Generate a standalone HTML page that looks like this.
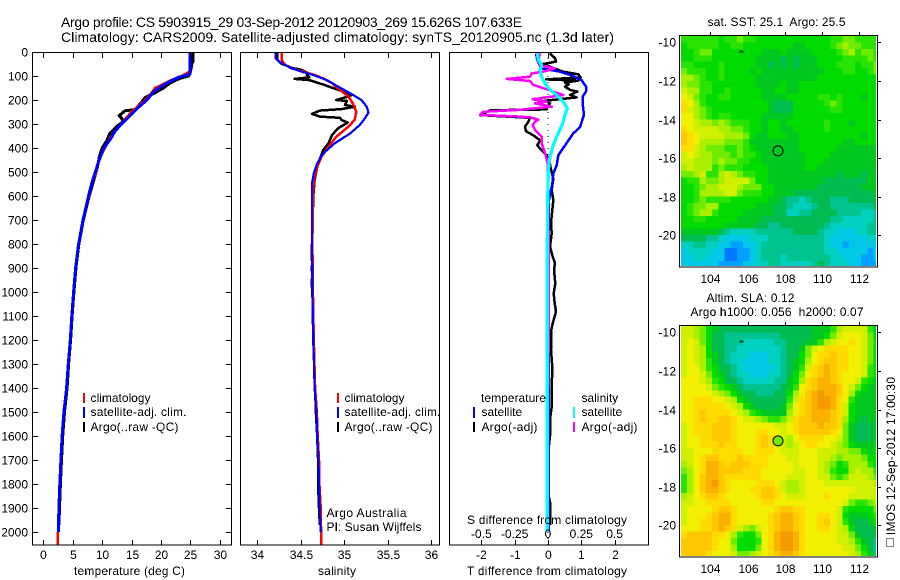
<!DOCTYPE html>
<html>
<head>
<meta charset="utf-8">
<title>Argo profile</title>
<style>
html,body{margin:0;padding:0;background:#fff;width:900px;height:580px;overflow:hidden}
svg{display:block}
text{font-family:"Liberation Sans",sans-serif;font-size:12px;fill:#000;white-space:pre}
.p{fill:none;shape-rendering:crispEdges;stroke-linejoin:round}
.c{shape-rendering:crispEdges}
</style>
</head>
<body>
<svg id="chart" width="900" height="580" viewBox="0 0 900 580">
<defs>
<filter id="crisp" x="0" y="0" width="900" height="580" filterUnits="userSpaceOnUse"><feComponentTransfer><feFuncA type="discrete" tableValues="0 1"/></feComponentTransfer></filter>
<clipPath id="clipT"><rect x="33" y="53" width="198" height="492"/></clipPath>
<clipPath id="clipS"><rect x="240" y="53" width="199" height="492"/></clipPath>
<clipPath id="clipD"><rect x="449" y="53" width="200" height="492"/></clipPath>
<clipPath id="clipSST"><rect x="681" y="36" width="195" height="230"/></clipPath>
<clipPath id="clipSLA"><rect x="681" y="326" width="195" height="230"/></clipPath>
</defs>
<g id="maps"></g>
<g id="series"></g>
<g id="frames"></g>
<g id="labels" filter="url(#crisp)">
<text x="61" y="27" style="font-size:14px" textLength="461" lengthAdjust="spacing">Argo profile: CS 5903915_29 03-Sep-2012 20120903_269 15.626S 107.633E</text>
<text x="61" y="42" style="font-size:14px" textLength="553" lengthAdjust="spacing">Climatology: CARS2009. Satellite-adjusted climatology: synTS_20120905.nc (1.3d later)</text>
<text x="74" y="575" textLength="111" lengthAdjust="spacing">temperature (deg C)</text>
<text x="318" y="575" textLength="38" lengthAdjust="spacing">salinity</text>
<text x="467" y="575" textLength="160" lengthAdjust="spacing">T difference from climatology</text>
<text x="467" y="524" textLength="160" lengthAdjust="spacing">S difference from climatology</text>
<text x="90.5" y="402">climatology</text>
<text x="90.5" y="416" textLength="96" lengthAdjust="spacing">satellite-adj. clim.</text>
<text x="90.5" y="431" textLength="88" lengthAdjust="spacing">Argo(..raw -QC)</text>
<text x="344.5" y="402">climatology</text>
<text x="344.5" y="416" textLength="96" lengthAdjust="spacing">satellite-adj. clim.</text>
<text x="344.5" y="431" textLength="88" lengthAdjust="spacing">Argo(..raw -QC)</text>
<text x="326.5" y="517" textLength="80" lengthAdjust="spacing">Argo Australia</text>
<text x="326.5" y="531" textLength="95" lengthAdjust="spacing">PI: Susan Wijffels</text>
<text x="481" y="402" textLength="65" lengthAdjust="spacing">temperature</text>
<text x="481.5" y="416">satellite</text>
<text x="481.5" y="431" textLength="56" lengthAdjust="spacing">Argo(-adj)</text>
<text x="581.5" y="402">salinity</text>
<text x="581.5" y="416">satellite</text>
<text x="581.5" y="431" textLength="56" lengthAdjust="spacing">Argo(-adj)</text>
<text x="707.5" y="26" textLength="138" lengthAdjust="spacing">sat. SST: 25.1  Argo: 25.5</text>
<text x="706.5" y="302" textLength="88" lengthAdjust="spacing">Altim. SLA: 0.12</text>
<text x="690.5" y="316" textLength="173" lengthAdjust="spacing">Argo h1000: 0.056  h2000: 0.07</text>
<text transform="translate(895,535) rotate(-90)" x="0" y="0" textLength="158" lengthAdjust="spacing">IMOS 12-Sep-2012 17:00:30</text>
</g>
<g>
<rect class="c" x="83" y="393" width="2" height="10" fill="#f00"/>
<rect class="c" x="83" y="407" width="2" height="11" fill="#00f"/>
<rect class="c" x="83" y="422" width="2" height="10" fill="#000"/>
<rect class="c" x="337" y="393" width="2" height="10" fill="#f00"/>
<rect class="c" x="337" y="407" width="2" height="11" fill="#00f"/>
<rect class="c" x="337" y="422" width="2" height="10" fill="#000"/>
<rect class="c" x="473" y="407" width="2" height="11" fill="#00f"/>
<rect class="c" x="473" y="422" width="2" height="10" fill="#000"/>
<rect class="c" x="573" y="407" width="2" height="11" fill="#0ff"/>
<rect class="c" x="573" y="422" width="2" height="10" fill="#f0f"/>
<rect x="886.5" y="538.5" width="7" height="8" fill="none" stroke="#000" stroke-width="1" stroke-dasharray="1 1" class="c"/>
</g>
</svg>
<script>
// ---- depth axis ticks ----
const depthTicks = [0,100,200,300,400,500,600,700,800,900,1000,1100,1200,1300,1400,1500,1600,1700,1800,1900,2000];
const tempTicks = [0,5,10,15,20,25,30];
const salTicks = [34,34.5,35,35.5,36];
const salTickLabels = ['34','34.5','35','35.5','36'];
const tDiffTicks = [-2,-1,0,1,2];
const sDiffTicks = [-0.5,-0.25,0,0.25,0.5];
const sDiffTickLabels = ['-0.5','-0.25','0','0.25','0.5'];
const lonTicks = [104,106,108,110,112];
const latTicks = [-10,-12,-14,-16,-18,-20];

// ---- temperature profile (deg C) ----
const tempClimDepth = [0,80,90,100,120,150,180,200,220,250,280,300,330,360,400,450,500,550,600,700,800,900,1000,1100,1200,1300,1400,1500,1600,1700,1800,1900,2000,2054];
const tempClim = [25.05,24.9,24.3,23.5,21.5,19,18.1,17.3,16.4,15,13.9,13.2,12.2,11.3,10.5,9.4,9,8.2,7.8,6.75,6,5.5,5.15,4.85,4.6,4.25,3.95,3.5,3.2,3,2.8,2.65,2.5,2.44];
const tempSatDepth = [0,85,95,105,130,160,200,230,260,300,330,360,400,450,500,550,600,700,800,900,1000,1100,1200,1300,1400,1500,1600,1700,1800,1900,2000];
const tempSat = [24.95,24.95,24.7,23,21,19,17.6,16.2,15,13.3,12.2,11.5,10.3,9.5,8.85,8.2,7.7,6.75,6,5.5,5.15,4.85,4.6,4.25,3.97,3.5,3.2,3,2.8,2.65,2.55];
const tempArgoDepth = [0,40,45,90,100,110,130,150,170,190,210,240,245,265,275,290,310,340,370,400,440,480,550,600,700,800,900,1000,1100,1200,1300,1400,1500,1600,1700,1800,1900,1970];
const tempArgo = [25.5,25.5,25.3,24.95,24.7,23.2,21.5,20.4,19,17.3,16.7,15.6,13.9,12.9,13.3,13.6,12.5,11.3,10.8,10,9.5,9.2,8.4,7.8,6.8,6.05,5.55,5.2,4.9,4.65,4.3,4.05,3.6,3.3,3.1,2.9,2.75,2.65];

// ---- salinity profile ----
const salClimDepth = [5,33,54,68,82,96,110,130,158,186,214,249,283,311,353,394,436,478,533,603,800,1000,1200,1400,1500,1600,1700,1800,1900,2000,2054];
const salClim = [34.28,34.28,34.32,34.395,34.53,34.66,34.76,34.86,34.95,35.05,35.1,35.14,35.12,35.05,34.91,34.82,34.74,34.69,34.65,34.64,34.635,34.64,34.65,34.665,34.685,34.695,34.71,34.715,34.73,34.735,34.735];
const salSatDepth = [0,26,40,54,68,82,96,117,144,172,200,228,253,276,304,339,381,422,464,506,547,617,800,1000,1200,1400,1500,1600,1700,1800,1900,2000];
const salSat = [34.21,34.21,34.25,34.32,34.395,34.51,34.645,34.8,34.93,35.07,35.2,35.26,35.28,35.24,35.18,35.07,34.89,34.76,34.69,34.65,34.63,34.63,34.63,34.635,34.645,34.66,34.68,34.69,34.705,34.71,34.72,34.73];
const salArgoDepth = [0,33,47,68,72,82,89,96,106,112,117,124,138,151,165,179,189,200,204,221,228,238,244,258,269,274,283,294,318,346,381,408,436,478,533,603,800,860,880,900,930,960,1000,1200,1400,1500,1600,1700,1800,1900,1970];
const salArgo = [34.23,34.23,34.27,34.41,34.49,34.55,34.59,34.57,34.6,34.43,34.6,34.66,34.78,34.875,34.99,35.09,35.01,34.91,35.03,35.01,35.125,34.97,34.72,34.63,34.72,34.95,34.97,35.04,34.93,34.86,34.82,34.76,34.73,34.69,34.66,34.645,34.63,34.625,34.635,34.625,34.635,34.625,34.635,34.645,34.665,34.675,34.69,34.7,34.7,34.71,34.72];

// ---- differences from climatology ----
const diffTSatDepth = [6,33,68,82,100,117,144,165,186,214,262,313,339,389,431,472,506,550,617,800,1000,1200,1400,1600,1800,2000];
const diffTSat = [-0.36,-0.32,-0.2,0.36,0.76,1.01,1.14,1.14,1.04,1.04,1.08,0.96,0.76,0.51,0.31,0.26,0.16,0.13,0.03,0.02,0.02,0.02,0.02,0.02,0.02,0.02];
const diffTArgoDepth = [6,26,40,50,61,72,82,93,106,114,119,128,135,144,158,165,179,189,196,203,214,228,239,243,263,274,290,311,330,347,368,389,410,431,458,500,528,575,617,658,714,756,811,853,880,908,964,1006,1047,1082,1131,1158,1242,1311,1408,1480,1530,1600,1650,1850,1875,1970];
const diffTArgo = [0.06,0.21,0.24,-0.14,0.06,0.26,0.46,0.91,0.98,-0.06,0.91,0.51,0.62,0.51,0.66,0.88,0.66,0.86,0.41,-0.09,0.06,-0.04,-0.04,-1.74,-2.04,-0.54,-0.59,-0.69,-0.66,-0.44,-0.24,-0.32,-0.19,-0.04,0.04,0.11,0.16,0.11,0.16,0.13,0.09,0.11,0.06,0.14,0.21,0.18,0.22,0.17,0.2,0.24,0.14,0.1,0.09,0.13,0.11,0.11,0.06,0.06,0.02,0.02,0.06,0.06];
const diffSSatDepth = [6,33,54,75,103,131,158,179,207,235,262,297,353,394,450,500,550,617,800,1000,1200,1400,1600,1800,2000];
const diffSSat = [-0.08,-0.072,-0.048,-0.06,-0.048,-0.022,0.015,0.065,0.115,0.145,0.128,0.11,0.065,0.035,0.01,0.002,0,-0.002,-0.005,-0.005,-0.005,-0.005,-0.005,-0.005,-0.005];
const diffSArgoDepth = [6,33,54,68,82,89,103,112,121,137,151,165,179,193,197,207,214,228,241,249,262,268,272,282,290,304,325,353,381,422,464,506,600,800,1000,1200,1400,1640,1960];
const diffSArgo = [-0.06,-0.072,-0.06,0.052,-0.035,-0.122,-0.135,-0.31,-0.135,-0.11,-0.035,0.04,0.115,-0.06,-0.115,-0.01,-0.097,0.028,-0.21,-0.485,-0.51,-0.26,-0.135,-0.072,-0.097,-0.115,-0.097,-0.048,-0.048,-0.022,-0.002,0,0,0.005,0.005,0.005,0,-0.01,-0.01];

// ---- map colour scale and gridded fields (scale units) ----
const scaleColors = ['#0078ff','#00a0ff','#00c8e6','#00d0c0','#00c490','#00bc50','#00c820','#00dc00','#28e400','#70ec00','#a8f000','#d0f000','#f0f000','#ffdc00','#ffc800','#fbb000','#f59a00'];
const sstGrid = [
[8,8,8,8,8,8,7,8,8,9,8,8,7,7,7,7,7,7,7,7,7,7,7,7,8,8,9,9,8,8,8,8],
[7,8,8,8,8,8,7,7,8,8,7,7,7,7,7,7,7,7,6,6,7,7,7,7,8,9,10,9,9,8,8,8],
[7,7,8,9,9,7,7,7,7,7,7,7,7,6,6,6,7,6,6,6,6,7,7,7,7,8,9,10,8,9,9,8],
[7,7,8,8,8,7,7,7,7,7,7,7,6,6,6,6,5,6,5,6,6,6,7,7,7,7,8,8,8,8,9,8],
[8,8,7,7,7,7,8,7,7,7,7,7,6,6,5,6,5,6,5,6,6,6,7,7,7,8,8,8,7,8,8,9],
[9,8,8,8,7,7,8,7,7,7,7,6,7,6,6,6,6,6,6,6,6,6,6,7,7,7,8,8,7,7,8,9],
[10,10,9,8,7,7,8,7,7,7,7,7,6,6,6,6,6,6,6,6,6,6,7,7,7,7,7,7,7,7,7,7],
[10,9,9,8,8,7,7,7,7,7,7,7,6,6,6,6,7,6,6,7,7,7,7,7,7,7,7,7,7,7,7,7],
[11,10,10,8,8,7,7,8,7,7,7,7,7,6,6,7,7,6,6,7,7,7,7,7,7,7,7,7,7,7,7,7],
[12,11,9,8,7,7,8,8,7,7,7,7,7,6,6,6,6,7,7,7,7,7,8,8,7,8,7,7,7,6,7,7],
[13,12,10,8,7,7,7,7,7,7,7,7,7,7,6,5,5,5,7,7,7,7,7,8,9,8,7,7,7,7,7,7],
[13,11,10,9,8,7,7,7,7,7,7,7,7,7,6,5,5,5,7,7,7,7,7,7,8,8,7,7,7,7,7,7],
[12,12,10,9,8,7,8,8,7,7,7,7,7,6,6,6,6,6,7,7,7,7,7,7,7,7,7,7,7,7,7,7],
[12,12,11,10,10,9,10,9,8,8,8,7,7,6,7,7,6,7,7,7,7,7,7,8,7,7,7,6,7,7,7,7],
[13,12,11,11,11,11,10,10,9,9,8,7,7,6,7,7,6,6,7,7,7,7,7,8,7,7,7,7,7,7,7,7],
[14,13,12,11,11,11,11,10,10,10,9,7,6,6,7,7,7,6,6,7,7,7,7,7,7,7,7,7,7,6,7,7],
[14,13,12,10,10,10,10,9,9,9,8,6,6,6,6,6,6,6,6,7,7,7,7,7,7,7,6,6,7,7,7,7],
[13,13,11,10,9,9,9,8,8,9,8,7,6,6,6,6,6,6,6,7,7,7,7,7,7,6,6,6,6,6,6,6],
[11,12,11,10,10,9,9,9,8,9,8,8,7,6,6,6,6,6,6,6,7,7,7,7,6,6,6,6,6,6,6,6],
[11,11,10,10,10,9,10,9,9,8,8,7,7,6,6,6,6,6,6,6,7,7,7,6,6,6,6,6,6,6,6,6],
[10,11,10,10,10,8,9,8,8,8,7,7,7,7,6,6,6,6,6,6,7,7,6,6,6,6,6,6,6,6,6,6],
[9,9,10,11,8,8,10,11,10,9,8,8,7,7,6,6,6,6,6,6,6,6,6,6,6,5,6,6,6,5,6,6],
[7,8,8,10,9,9,10,11,11,11,11,9,7,7,6,6,6,6,6,6,6,6,6,5,5,5,5,5,5,5,6,6],
[7,7,8,9,10,10,11,11,11,10,9,9,9,7,7,6,6,6,6,6,6,6,5,5,5,5,5,5,5,6,6,6],
[7,7,8,10,10,10,10,11,11,9,8,8,8,7,7,6,6,6,5,5,5,5,5,5,5,5,5,5,5,5,5,6],
[7,7,8,9,8,8,8,8,7,7,7,7,7,7,6,6,5,4,4,3,4,5,5,5,4,4,4,5,5,5,5,5],
[7,8,9,9,10,10,7,7,7,7,7,7,6,6,6,5,5,4,3,3,3,4,5,5,4,4,4,4,4,4,4,5],
[7,8,9,10,10,8,7,7,7,7,6,6,6,6,6,5,5,3,3,4,4,5,5,5,5,4,4,4,4,3,3,4],
[7,7,8,8,7,7,7,7,7,6,6,6,6,5,5,5,5,5,5,5,5,5,5,5,4,4,3,3,3,3,3,4],
[7,7,7,7,7,7,7,6,6,6,6,6,5,5,4,4,5,5,5,5,5,5,5,4,3,3,3,3,3,3,4,4],
[6,6,6,6,6,6,5,4,3,3,3,3,4,4,4,4,4,4,5,5,5,5,4,3,3,2,2,2,3,3,4,4],
[5,5,5,5,4,4,3,2,2,2,2,3,3,3,4,4,4,4,4,4,4,4,4,3,2,2,2,2,2,2,3,2],
[3,3,4,4,3,3,2,2,1,1,2,2,3,4,4,4,4,4,4,4,4,4,4,3,2,2,1,2,2,2,2,2],
[2,3,3,3,3,2,2,0,0,1,1,2,3,4,4,4,4,4,4,4,4,4,4,3,3,2,2,2,2,2,1,2],
[2,2,3,3,2,2,2,0,0,1,1,2,3,4,4,4,3,4,4,4,4,4,4,4,3,3,2,2,2,1,1,2],
[2,2,2,2,2,2,1,1,1,1,2,2,3,3,4,4,3,3,3,3,3,4,5,4,3,3,3,2,2,1,1,1]
];
const slaGrid = [
[11,11,10,9,7,6,5,5,5,5,5,5,5,5,5,5,5,5,5,5,5,6,6,6,8,10,11,11,11,11,8,6],
[11,11,10,9,7,5,5,4,4,4,4,4,4,4,4,4,5,5,5,5,5,6,6,7,9,11,12,12,12,11,9,6],
[11,12,11,9,7,5,5,4,4,4,3,3,3,3,3,4,4,5,5,5,6,6,8,10,11,12,12,13,12,11,9,7],
[11,12,11,10,7,5,5,4,4,3,3,3,3,3,3,3,4,5,5,6,9,11,12,13,13,13,13,12,12,11,9,7],
[11,12,11,10,7,6,5,4,3,3,3,2,2,2,3,3,4,5,5,7,9,12,13,13,14,13,13,12,12,11,9,7],
[11,12,11,10,8,6,5,4,3,3,2,2,2,2,3,3,4,5,6,7,10,12,13,14,14,13,13,12,12,11,9,7],
[11,12,12,10,8,7,5,5,4,3,2,2,2,2,2,3,4,5,6,8,11,13,14,15,14,13,13,12,12,11,8,7],
[11,12,12,11,9,7,6,5,4,3,3,2,2,2,3,3,4,5,7,9,12,13,14,15,14,13,12,12,12,11,8,7],
[12,12,12,11,10,8,7,5,5,4,3,3,3,3,3,4,4,6,7,10,13,14,15,15,14,13,12,12,11,8,7,6],
[12,12,12,12,11,9,8,7,6,5,4,4,4,4,4,4,5,6,8,12,13,14,15,15,15,14,12,11,9,7,6,6],
[12,12,12,12,12,11,10,9,7,6,5,5,4,4,4,5,5,7,10,12,14,15,16,15,15,14,12,10,7,6,6,6],
[12,12,13,13,13,12,12,11,10,7,6,5,5,5,5,5,5,8,11,13,14,15,16,16,15,13,12,8,6,6,6,6],
[12,12,13,13,13,13,13,12,11,10,7,6,5,5,5,5,6,9,12,13,14,15,16,16,15,13,11,7,6,6,6,6],
[12,12,13,14,13,13,13,13,12,11,10,8,7,6,6,6,6,10,12,13,14,15,15,15,14,13,11,7,6,6,6,6],
[12,12,13,14,13,13,14,14,13,12,11,11,10,9,8,8,9,11,13,14,14,15,15,15,14,13,10,7,6,5,6,6],
[11,12,13,13,13,14,14,14,13,12,12,12,12,12,12,11,11,12,13,14,14,14,15,14,14,13,9,6,5,5,5,6],
[11,12,13,13,13,14,14,14,13,12,12,12,13,13,12,12,11,12,13,14,14,14,14,14,13,12,9,6,5,5,5,6],
[11,12,12,13,13,14,14,14,13,12,12,12,13,14,13,12,11,10,12,13,13,13,13,12,12,11,9,6,5,5,5,6],
[11,12,12,13,13,13,14,13,13,12,12,12,13,14,13,12,11,10,11,12,13,13,12,12,11,10,9,7,6,6,6,7],
[11,11,12,12,12,13,13,13,13,13,12,12,13,13,13,12,11,11,11,12,12,12,11,11,11,10,10,9,9,7,6,7],
[11,11,12,13,14,14,13,13,13,14,13,13,13,13,12,12,12,11,11,12,12,12,11,11,10,9,10,10,10,9,7,7],
[10,11,12,13,15,15,14,13,14,14,14,13,13,13,12,12,12,12,11,12,12,12,11,10,9,7,8,10,10,10,8,7],
[9,10,12,13,15,15,14,14,14,14,13,13,13,12,12,12,12,12,11,11,12,12,11,10,8,7,7,10,11,10,10,8],
[8,10,12,14,15,15,14,13,13,13,13,13,13,12,12,12,12,11,11,11,12,12,11,11,9,8,9,11,11,11,10,9],
[8,10,12,14,15,16,14,13,12,12,12,12,13,13,13,12,11,10,10,11,12,12,12,11,11,11,11,11,11,11,11,10],
[8,10,12,14,15,15,14,13,12,12,12,13,13,14,14,13,11,10,10,11,12,12,12,12,12,12,12,12,11,11,11,11],
[10,11,12,13,14,14,13,12,12,12,12,12,13,14,14,13,12,11,11,11,12,12,12,13,12,12,12,11,11,11,11,11],
[11,11,12,12,13,13,13,13,12,12,12,12,12,13,13,12,12,12,12,12,12,12,12,12,12,12,11,9,8,8,9,10],
[11,12,12,12,12,13,14,14,13,12,12,12,12,12,12,13,14,14,13,13,12,12,12,12,12,11,8,7,7,7,7,9],
[11,12,12,12,13,14,15,15,13,12,12,12,12,12,13,14,15,15,14,13,12,12,13,13,12,11,7,6,6,6,7,8],
[11,12,12,13,13,14,15,15,13,12,12,12,12,12,13,14,15,15,14,13,12,12,13,14,12,11,8,6,5,5,6,7],
[12,12,12,13,13,14,15,14,13,11,10,9,11,12,13,14,15,15,14,13,12,12,13,13,12,11,10,7,5,5,5,6],
[13,14,14,14,14,13,13,12,10,8,7,7,9,12,13,15,16,16,15,13,12,12,12,12,12,11,11,9,6,5,5,5],
[14,14,14,14,14,13,12,12,9,7,7,7,8,12,13,15,16,16,15,13,12,12,12,12,12,11,11,10,8,6,5,4],
[14,14,14,14,14,13,12,12,10,7,7,7,9,12,13,15,16,16,15,13,12,12,12,12,12,12,11,11,9,7,5,4],
[14,14,14,14,13,12,12,12,11,9,9,10,11,12,13,14,15,15,14,13,12,12,12,12,12,12,12,11,10,8,6,4]
];
const profileLon = [107.633];
const profileLat = [-15.626];
const sstCircleLevel = [null];
const slaCircleLevel = [9];

// ---- axis functions ----
function yD(d){return 52+0.24*d;}
function xTemp(t){return 43.3+5.88*t;}
function xSal(s){return 257.3+86.85*(s-34);}
function xTD(t){return 548+33.3*t;}
function xSD(s){return 548+133.2*s;}
function xLon(l){return 710.3+18.63*(l-104);}
function yLat(l){return 42.3+19.3*(-10-l);}

const NS='http://www.w3.org/2000/svg';
const mapsG=document.getElementById('maps');
const seriesG=document.getElementById('series');
const framesG=document.getElementById('frames');
const labelsG=document.getElementById('labels');

function mk(tag,parent,attrs){
  const el=document.createElementNS(NS,tag);
  for(const k in attrs)el.setAttribute(k,attrs[k]);
  parent.appendChild(el);
  return el;
}
function tickLabel(txt,x,y,anchor,name){
  const el=mk('text',labelsG,{x:x,y:y,'text-anchor':anchor});
  el.textContent=txt;
  
  
  return el;
}
function tickLine(x1,y1,x2,y2,name){
  const el=mk('line',framesG,{x1:x1,y1:y1,x2:x2,y2:y2,stroke:'#000','stroke-width':1,class:'c'});
  
  
  return el;
}
function frame(x,y,w,h,name){
  const el=mk('rect',framesG,{x:x,y:y,width:w,height:h,fill:'none',stroke:'#000','stroke-width':1,class:'c'});
  
  
  return el;
}
function line(xs,ys,fx,color,w,clip,name){
  const pts=xs.map((d,i)=>fx(ys[i]).toFixed(1)+','+yD(d).toFixed(1)).join(' ');
  const el=mk('polyline',seriesG,{points:pts,stroke:color,'stroke-width':w,class:'p','clip-path':'url(#'+clip+')'});
  
  
  return el;
}

// profile panels
frame(32.5,52.5,199,492.5,'temperature-plot-frame');
frame(240.5,52.5,199,492.5,'salinity-plot-frame');
frame(449.5,52.5,199,492.5,'difference-plot-frame');

depthTicks.forEach(d=>{
  const y=Math.round(yD(d))+0.5;
  tickLine(33,y,38,y,'depth-tick-left');
  tickLine(226,y,231,y,'depth-tick-right');
  tickLabel(String(d),28,y+4,'end','depth-tick-label');
});
tempTicks.forEach(t=>{
  const x=Math.round(xTemp(t))+0.5;
  tickLine(x,53,x,58,'temperature-tick-top');
  tickLine(x,540,x,545,'temperature-tick-bottom');
  tickLabel(String(t),x,559,'middle','temperature-tick-label');
});
salTicks.forEach((s,i)=>{
  const x=Math.round(xSal(s))+0.5;
  tickLine(x,53,x,58,'salinity-tick-top');
  tickLine(x,540,x,545,'salinity-tick-bottom');
  tickLabel(salTickLabels[i],x,559,'middle','salinity-tick-label');
});
tDiffTicks.forEach(t=>{
  const x=Math.round(xTD(t))+0.5;
  tickLine(x,53,x,58,'t-difference-tick-top');
  tickLine(x,540,x,545,'t-difference-tick-bottom');
  tickLabel(String(t),x,559,'middle','t-difference-tick-label');
});
sDiffTicks.forEach((s,i)=>{
  tickLabel(sDiffTickLabels[i],xSD(s),538,'middle','s-difference-tick-label');
});

// zero reference
{
  const el=mk('line',seriesG,{x1:xTD(0),x2:xTD(0),y1:yD(0),y2:yD(2054),stroke:'#000','stroke-width':1,'stroke-dasharray':'1 5',class:'c'});
  
  
}

// temperature
line(tempArgoDepth,tempArgo,xTemp,'#000',3,'clipT','temperature-argo-line');
line(tempClimDepth,tempClim,xTemp,'#f00',2.5,'clipT','temperature-climatology-line');
line(tempSatDepth,tempSat,xTemp,'#00f',3,'clipT','temperature-satellite-line');
// salinity
line(salArgoDepth,salArgo,xSal,'#000',2.5,'clipS','salinity-argo-line');
line(salClimDepth,salClim,xSal,'#f00',2.5,'clipS','salinity-climatology-line');
line(salSatDepth,salSat,xSal,'#00f',2.2,'clipS','salinity-satellite-line');
// differences
line(diffTArgoDepth,diffTArgo,xTD,'#000',2.5,'clipD','t-difference-argo-line');
line(diffTSatDepth,diffTSat,xTD,'#00f',2.5,'clipD','t-difference-satellite-line');
line(diffSArgoDepth,diffSArgo,xSD,'#f0f',2.5,'clipD','s-difference-argo-line');
line(diffSSatDepth,diffSSat,xSD,'#0ff',3.2,'clipD','s-difference-satellite-line');

// maps
const cellW=195/31.4, cellH=230/35.8;
function drawMap(grid,dy,clip,prefix,circleLevel){
  const g=mk('g',mapsG,{'clip-path':'url(#'+clip+')'});
  
  
  grid.forEach((row,r)=>row.forEach((v,c)=>{
    const x=681+c*cellW, y=36+dy+r*cellH;
    const el=mk('rect',g,{x:x.toFixed(2),y:y.toFixed(2),width:(cellW+0.6).toFixed(2),height:(cellH+0.6).toFixed(2),fill:scaleColors[v],class:'c'});
    
    
  }));
  frame(679.5,35.5+dy,198,231.5,prefix+'-map-frame');
  lonTicks.forEach(l=>{
    const x=Math.round(xLon(l))+0.5;
    tickLine(x,32+dy,x,35+dy,prefix+'-longitude-tick');
    tickLabel(String(l),x,283+dy,'middle',prefix+'-longitude-label');
  });
  latTicks.forEach(l=>{
    const y=Math.round(yLat(l))+0.5+dy;
    tickLine(878,y,881,y,prefix+'-latitude-tick');
    tickLabel(String(l),676,y+4,'end',prefix+'-latitude-label');
  });
  const spk=mk('rect',framesG,{x:739.5,y:50.5+dy,width:4,height:2,fill:'#000',class:'c','fill-opacity':0.7});
  
  
  const lv=circleLevel[0];
  const circ=mk('circle',framesG,{cx:xLon(profileLon[0]).toFixed(1),cy:(yLat(profileLat[0])+dy).toFixed(1),r:5,fill:lv===null?'none':scaleColors[lv],stroke:'#000','stroke-width':1});
  
  
}
drawMap(sstGrid,0,'clipSST','sst',sstCircleLevel);
drawMap(slaGrid,290,'clipSLA','sla',slaCircleLevel);
</script>
</body>
</html>
